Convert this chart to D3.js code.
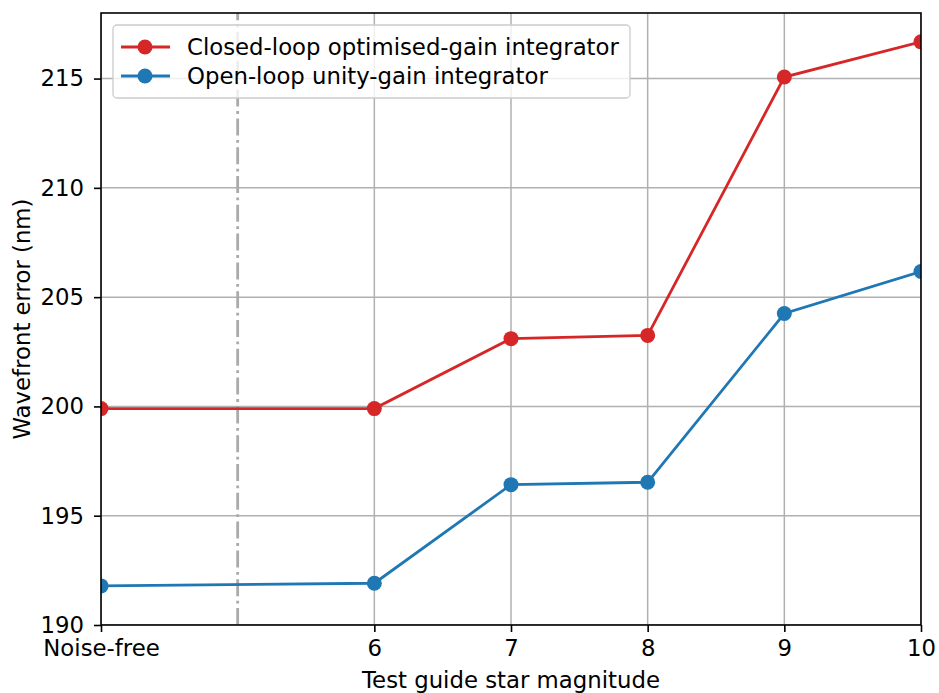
<!DOCTYPE html>
<html>
<head>
<meta charset="utf-8">
<script src="https://cdn.jsdelivr.net/npm/d3@7"></script>
<style>
  body { margin: 0; background: #fff; }
  text { font-family: "DejaVu Sans", sans-serif; }
</style>
</head>
<body>
<svg id="chart" width="939" height="693"></svg>
<script>
// x = 4 stands for the noise-free case
var magnitudes = [4, 6, 7, 8, 9, 10];
var closedLoop = [199.9, 199.9, 203.1, 203.25, 215.07, 216.68];
var openLoop   = [191.79, 191.91, 196.42, 196.53, 204.25, 206.17];
var xTicks = [4, 6, 7, 8, 9, 10];
var xTickLabels = ["Noise-free", "6", "7", "8", "9", "10"];
var yTicks = [190, 195, 200, 205, 210, 215];
var dividerAt = 5;

var series = [
    { name: "Closed-loop optimised-gain integrator", values: closedLoop, color: "#d62728" },
    { name: "Open-loop unity-gain integrator", values: openLoop, color: "#1f77b4" }
];

var margin = { left: 101, right: 18, top: 13, bottom: 68 };
var W = 939, H = 693;
var fontSize = "22.8px";

var svg = d3.select("#chart");

var x = d3.scaleLinear()
    .domain([4, 10])
    .range([margin.left, W - margin.right]);

var y = d3.scaleLinear()
    .domain([190, 218])
    .range([H - margin.bottom, margin.top]);

svg.append("defs").append("clipPath")
    .attr("id", "plotclip")
    .append("rect")
    .attr("x", x.range()[0])
    .attr("y", y.range()[1])
    .attr("width", x.range()[1] - x.range()[0])
    .attr("height", y.range()[0] - y.range()[1]);

// grid
var grid = svg.append("g").attr("clip-path", "url(#plotclip)");
grid.selectAll(".vgrid")
    .data(xTicks)
    .enter().append("line")
    .attr("x1", d => x(d)).attr("x2", d => x(d))
    .attr("y1", y.range()[0]).attr("y2", y.range()[1])
    .attr("stroke", "#b0b0b0").attr("stroke-width", 1.5);
grid.selectAll(".hgrid")
    .data(yTicks)
    .enter().append("line")
    .attr("x1", x.range()[0]).attr("x2", x.range()[1])
    .attr("y1", d => y(d)).attr("y2", d => y(d))
    .attr("stroke", "#b0b0b0").attr("stroke-width", 1.5);

// dash-dot divider
grid.append("line")
    .attr("x1", x(dividerAt)).attr("x2", x(dividerAt))
    .attr("y1", y.range()[0]).attr("y2", y.range()[1])
    .attr("stroke", "#aaaaaa").attr("stroke-width", 2.8)
    .attr("stroke-dasharray", "17,4.5,2.8,4.5");

// lines and markers
var plot = svg.append("g").attr("clip-path", "url(#plotclip)");
var line = d3.line()
    .x((d, i) => x(magnitudes[i]))
    .y(d => y(d));

series.forEach(function(s) {
    plot.append("path")
        .datum(s.values)
        .attr("fill", "none")
        .attr("stroke", s.color)
        .attr("stroke-width", 2.8)
        .attr("d", line);
    plot.selectAll(null)
        .data(s.values)
        .enter().append("circle")
        .attr("cx", (d, i) => x(magnitudes[i]))
        .attr("cy", d => y(d))
        .attr("r", 7.5)
        .attr("fill", s.color);
});

// axes
var xAxis = d3.axisBottom(x)
    .tickValues(xTicks)
    .tickFormat((d, i) => xTickLabels[i])
    .tickSize(7).tickSizeOuter(0).tickPadding(8);
var yAxis = d3.axisLeft(y)
    .tickValues(yTicks)
    .tickSize(7).tickSizeOuter(0).tickPadding(10);

var gx = svg.append("g")
    .attr("transform", "translate(0," + y.range()[0] + ")")
    .call(xAxis);
var gy = svg.append("g")
    .attr("transform", "translate(" + x.range()[0] + ",0)")
    .call(yAxis);

[gx, gy].forEach(function(g) {
    g.select(".domain").remove();
    g.selectAll(".tick line").attr("stroke", "#000").attr("stroke-width", 1.6);
    g.selectAll(".tick text")
        .attr("fill", "#000")
        .style("font-size", fontSize)
        .style("font-family", "DejaVu Sans");
});

// frame
svg.append("rect")
    .attr("x", x.range()[0]).attr("y", y.range()[1])
    .attr("width", x.range()[1] - x.range()[0])
    .attr("height", y.range()[0] - y.range()[1])
    .attr("fill", "none").attr("stroke", "#000").attr("stroke-width", 1.6);

// axis labels
svg.append("text")
    .attr("x", (x.range()[0] + x.range()[1]) / 2)
    .attr("y", 688)
    .attr("text-anchor", "middle")
    .style("font-size", fontSize)
    .text("Test guide star magnitude");

svg.append("text")
    .attr("transform", "translate(30," + ((y.range()[0] + y.range()[1]) / 2) + ") rotate(-90)")
    .attr("text-anchor", "middle")
    .style("font-size", fontSize)
    .text("Wavefront error (nm)");

// legend
var legend = svg.append("g").attr("transform", "translate(113,25)");
legend.append("rect")
    .attr("width", 517).attr("height", 73)
    .attr("rx", 4)
    .attr("fill", "#fff").attr("fill-opacity", 0.8)
    .attr("stroke", "#cccccc").attr("stroke-width", 1.3);

var items = legend.selectAll(".item")
    .data(series)
    .enter().append("g")
    .attr("transform", (d, i) => "translate(0," + (22 + i * 29) + ")");
items.append("line")
    .attr("x1", 8).attr("x2", 57)
    .attr("stroke", d => d.color).attr("stroke-width", 2.8);
items.append("circle")
    .attr("cx", 32).attr("r", 7.5)
    .attr("fill", d => d.color);
items.append("text")
    .attr("x", 74).attr("dy", "0.35em")
    .style("font-size", fontSize)
    .text(d => d.name);
</script>
</body>
</html>
